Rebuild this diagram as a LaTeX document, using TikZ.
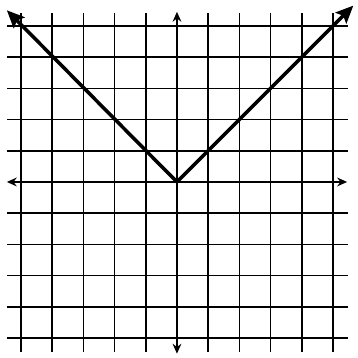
\documentclass[tikz,border=0pt]{standalone}
\usetikzlibrary{arrows.meta}
\begin{document}
\begin{tikzpicture}[x=1cm,y=1cm,
  gridline/.style={line width=1.4pt,black},
  axisline/.style={line width=1.8pt,black,{Stealth[length=9pt,width=8pt]}-{Stealth[length=9pt,width=8pt]}},
  graphline/.style={line width=3.2pt,black,-{Stealth[length=16pt,width=14pt,inset=3pt]}}]
\useasboundingbox (-5.67,-5.64) rectangle (5.77,5.83);
\foreach \i in {-5,-4,-3,-2,-1,1,2,3,4,5}{
  \draw[gridline] (-5.45,\i) -- (5.48,\i);
  \draw[gridline] (\i,-5.45) -- (\i,5.42);
}
\coordinate (xl) at (-5.45,0);
\coordinate (xr) at (5.45,0);
\coordinate (yb) at (0,-5.5);
\coordinate (yt) at (0,5.45);
\coordinate (O) at (0,0);
\coordinate (L) at (-5.45,5.5);
\coordinate (R) at (5.65,5.65);
\draw[axisline] (xl) -- (xr);
\draw[axisline] (yb) -- (yt);
\draw[graphline] (O) -- (L);
\draw[graphline] (O) -- (R);
\end{tikzpicture}
\end{document}
